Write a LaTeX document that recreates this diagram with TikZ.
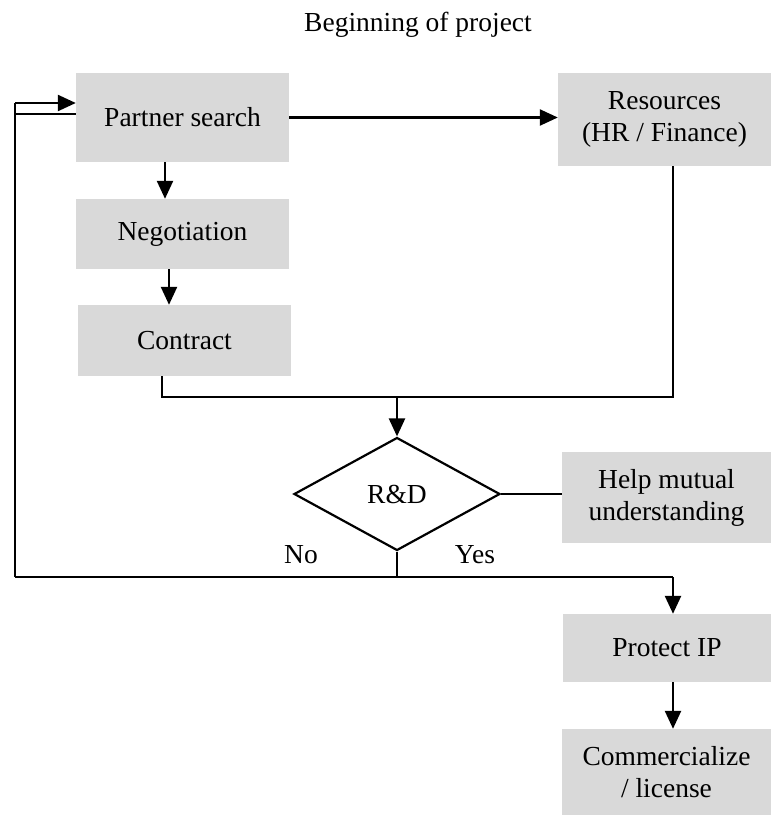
\documentclass[tikz,border=0pt]{standalone}
\usepackage{fontspec}
\setmainfont{Liberation Serif}
\usetikzlibrary{shapes.geometric,arrows.meta}

\tikzset{
  box/.style={fill=black!15, inner sep=0pt, align=center, minimum width=210},
  txt/.style={font=\fontsize{27.5}{32}\selectfont},
  arrow/.style={line width=2.4pt, -{Triangle[length=18pt,width=16pt]}},
  thinline/.style={line width=1.2pt},
}

\begin{document}
\begin{tikzpicture}[x=1pt,y=-1pt,txt]
   \useasboundingbox (0,0) rectangle (771,816);
   % boxes
   \node[anchor=base] (title) at (418,32) {Beginning of project};
   \node[box,minimum width=213,minimum height=89] (ps) at (182.5,117.5) {Partner search};
   \node[box,minimum width=213,minimum height=70] (neg) at (182.5,234) {Negotiation};
   \node[box,minimum width=213,minimum height=71] (con) at (184.5,340.5) {Contract};
   \node[box,minimum width=213,minimum height=93] (res) at (664.5,119.5) {Resources\\(HR / Finance)};
   \node[draw,line width=2.2pt,diamond,aspect=1.82,inner sep=0pt,
         minimum width=206,minimum height=113] (rd) at (397,494) {R\&D};
   \node[box,minimum width=209,minimum height=91] (help) at (666.5,497.5) {Help mutual\\understanding};
   \node[box,minimum width=208,minimum height=68] (pip) at (667,648) {Protect IP};
   \node[box,minimum width=209,minimum height=86] (com) at (666.5,772) {Commercialize\\/ license};
   \node[anchor=base] (no) at (301,563) {No};
   \node[anchor=base] (yes) at (475,563) {Yes};
   % joints
   \coordinate (join) at (397,397);
   \coordinate (split) at (397,577);
   \coordinate (back) at (15,577);
   \coordinate (drop) at (673,577);
   \coordinate (top) at (15,103);
   \coordinate (mid) at (15,114);
   % connectors
   \draw[arrow] (ps.east) -- (ps.east -| res.west);
   \draw[arrow] ([xshift=-17.5pt]ps.south) -- ([xshift=-17.5pt]ps.south |- neg.north);
   \draw[arrow] ([xshift=-13.5pt]neg.south) -- ([xshift=-13.5pt]neg.south |- con.north);
   \draw[thinline] ([xshift=-22.5pt]con.south) |- (join) -| ([xshift=8.5pt]res.south);
   \draw[arrow] (join) -- (rd.north);
   \draw[thinline] (rd.east) -- (rd.east -| help.west);
   \draw[thinline] (rd.south) -- (split);
   \draw[line width=1.6pt] (back) -- (split) -- (drop);
   \draw[arrow] (drop) -- (drop |- pip.north);
   \draw[arrow] (drop |- pip.south) -- (drop |- com.north);
   \draw[thinline] (back) -- (top);
   \draw[arrow] (top) -- (top -| ps.west);
   \draw[thinline] (mid) -- (mid -| ps.west);
\end{tikzpicture}
\end{document}
